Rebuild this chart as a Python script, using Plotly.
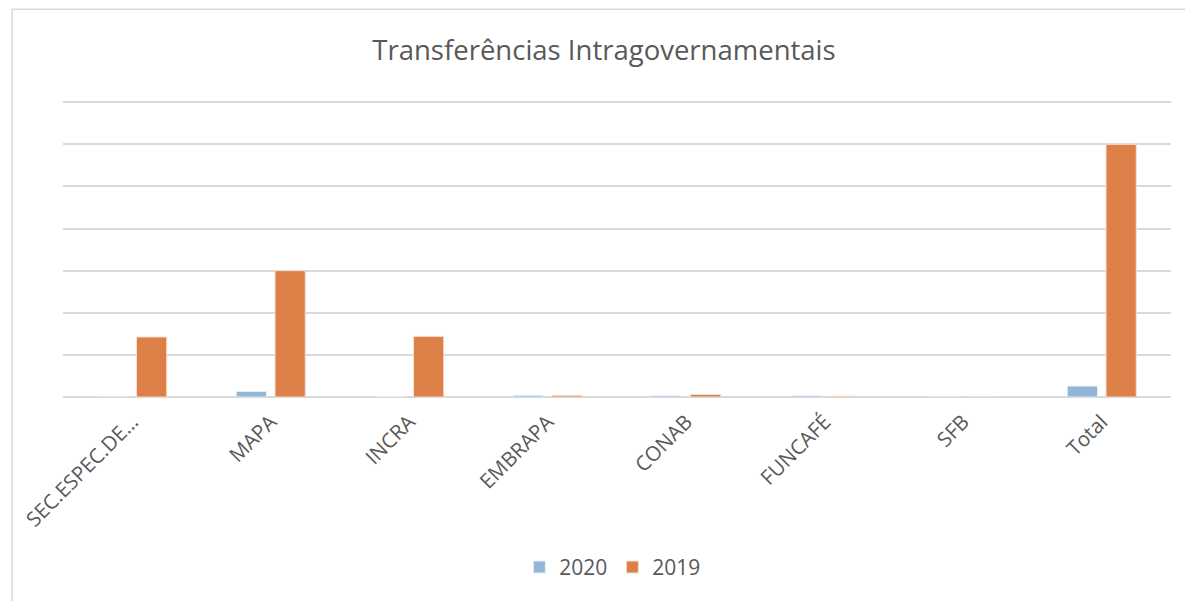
import plotly.graph_objects as go

categories = ["SEC.ESPEC.DE…", "MAPA", "INCRA", "EMBRAPA", "CONAB", "FUNCAFÉ", "SFB", "Total"]
values_2020 = [0.0, 0.13, 0.01, 0.04, 0.03, 0.03, 0.005, 0.26]
values_2019 = [1.425, 3.0, 1.44, 0.04, 0.06, 0.02, 0.005, 6.0]

FONT = "Open Sans"
GRAY = "#595959"

# page offset (body margin) = 8px
W, H = 1185, 593
YMAX = 7.1
UNIT = 42.1
PL, PR, PB = 51, 1163, 388.7  # plot area in figure pixels
PT = PB - UNIT * YMAX

fig = go.Figure()
fig.add_trace(go.Bar(name="2020", x=categories, y=values_2020,
                     marker=dict(color="#94B6D6", line=dict(color="#E6EEF6", width=1))))
fig.add_trace(go.Bar(name="2019", x=categories, y=values_2019,
                     marker=dict(color="#DD8047", line=dict(color="#F6E0D2", width=1))))

ph = PB - PT
pw = PR - PL

fig.update_layout(
    width=W, height=H,
    margin=dict(l=PL, r=W - PR, t=PT, b=H - PB),
    paper_bgcolor="white", plot_bgcolor="white",
    barmode="group", bargap=0.44, bargroupgap=0.22,
    title=dict(text="Transferências Intragovernamentais", x=(604 - 8) / W, xanchor="center",
               y=1 - (50 - 8) / H, yref="container", yanchor="middle",
               font=dict(family=FONT, size=27.5, color=GRAY)),
    font=dict(family=FONT, color=GRAY),
    showlegend=True,
    legend=dict(orientation="h", x=(533 - 8 - 16 - PL) / pw, xanchor="left",
                y=(PB - (567 - 8)) / ph, yanchor="middle",
                font=dict(family=FONT, size=21, color=GRAY),
                entrywidth=48, entrywidthmode="pixels",
                traceorder="normal"),
    xaxis=dict(tickangle=-45, tickfont=dict(family=FONT, size=20.5, color=GRAY),
               showgrid=False, showline=False, ticks="",
               ticklabelstandoff=8, ticklabelshift=0),
    yaxis=dict(range=[0, YMAX], dtick=1, showticklabels=False, showgrid=True,
               gridcolor="#D9D9D9", gridwidth=1.5, zeroline=True,
               zerolinecolor="#D9D9D9", zerolinewidth=1.5, ticks=""),
    shapes=[dict(type="rect", xref="paper", yref="paper",
                 x0=(0 - PL) / pw, x1=(W + 20 - PL) / pw,
                 y0=(PB - (H + 20)) / ph, y1=(PB - 1) / ph,
                 line=dict(color="#D9D9D9", width=1.5), fillcolor="rgba(0,0,0,0)",
                 layer="below")],
)

fig.write_html("out.html")
